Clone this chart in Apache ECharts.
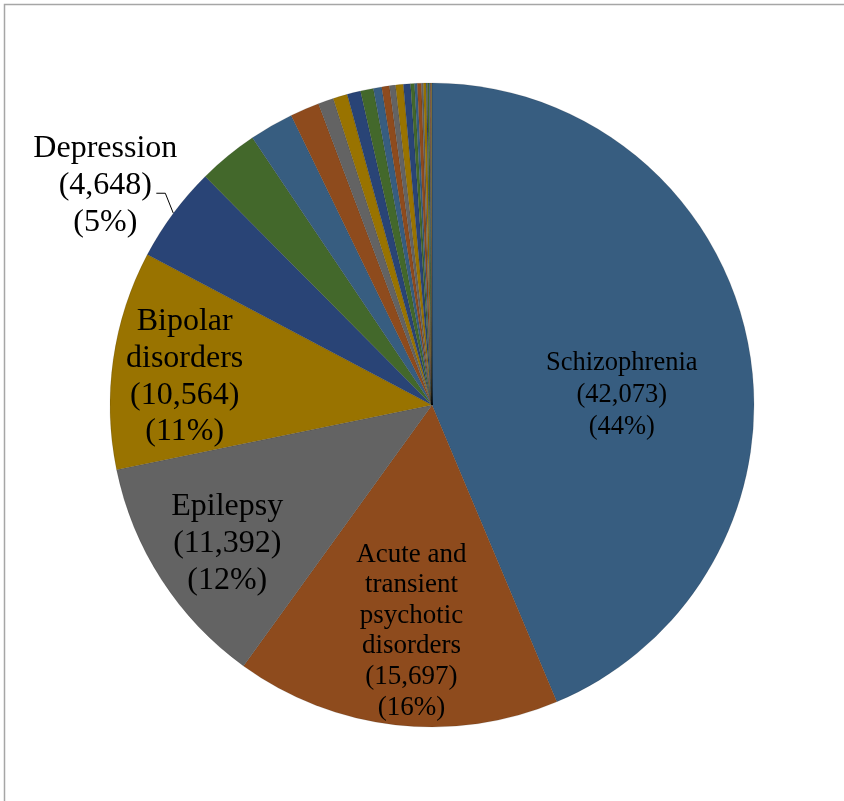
<!DOCTYPE html>
<html>
<head>
<meta charset="utf-8">
<script src="https://cdn.jsdelivr.net/npm/echarts@6/dist/echarts.min.js"></script>
<style>
  html, body { margin: 0; padding: 0; background: #ffffff; }
  #chart { width: 844px; height: 801px; }
</style>
</head>
<body>
<div id="chart"></div>
<script>
// Diagnoses, in clockwise order from 12 o'clock
const categories = [
  'Schizophrenia', 'Acute and transient psychotic disorders', 'Epilepsy',
  'Bipolar disorders', 'Depression',
  'Other 1', 'Other 2', 'Other 3', 'Other 4', 'Other 5', 'Other 6', 'Other 7',
  'Other 8', 'Other 9', 'Other 10', 'Other 11', 'Other 12', 'Other 13',
  'Other 14', 'Other 15', 'Other 16', 'Other 17', 'Other 18', 'Other 19',
  'Other 20', 'Other 21', 'Other 22', 'Other 23'
];
// Number of patients per diagnosis
const patients = [
  42073, 15697, 11392, 10564, 4648,
  2907, 2134, 1413, 747, 693, 653, 627,
  400, 373, 293, 373, 347, 187,
  133, 197, 96, 133, 53, 93,
  40, 35, 30, 25
];
// Label text for the labelled slices (line breaks as printed)
const labelNames = [
  'Schizophrenia',
  'Acute and\ntransient\npsychotic\ndisorders',
  'Epilepsy',
  'Bipolar\ndisorders',
  'Depression'
];

const palette = ['#375D80', '#8E4B1D', '#636363', '#997300', '#294476', '#43682B'];
// Label font size / line height and shift from the default inside position
const labelFont = [26.5, 27, 32, 32, 32];
const labelLH = [32, 30.6, 37, 36.7, 37];
const labelShift = [[29, 22], [-2, 63], [-67, 50], [-85, -5], null];

const total = patients.reduce((a, b) => a + b, 0);
const fmt = v => v.toLocaleString('en-US');

const data = categories.map((name, i) => {
  const item = { name: name, value: patients[i] };
  if (i < labelNames.length) {
    const pct = Math.round(patients[i] / total * 100);
    item.label = {
      show: true,
      position: i === 4 ? 'outside' : 'inside',
      formatter: labelNames[i] + '\n(' + fmt(patients[i]) + ')\n(' + pct + '%)',
      fontSize: labelFont[i],
      lineHeight: labelLH[i],
      fontFamily: '"Liberation Serif", "Times New Roman", serif',
      color: '#000000',
      align: 'center'
    };
    if (i === 4) {
      item.labelLine = { show: true, length: 20, length2: 9, lineStyle: { color: '#000000', width: 1 } };
    }
  }
  return item;
});

const chart = echarts.init(document.getElementById('chart'), null, { renderer: 'canvas' });
chart.setOption({
  animation: false,
  color: palette,
  graphic: [{
    type: 'rect',
    shape: { x: 4.5, y: 4.5, width: 1000, height: 1000 },
    style: { fill: 'none', stroke: '#A6A6A6', lineWidth: 1.5 },
    silent: true
  }],
  series: [{
    type: 'pie',
    center: [432, 405],
    radius: 322,
    startAngle: 90,
    clockwise: true,
    avoidLabelOverlap: false,
    minAngle: 0,
    emphasis: { disabled: true },
    itemStyle: { borderColor: 'rgba(0,0,0,0.22)', borderWidth: 0.5 },
    label: { show: false },
    labelLine: { show: false },
    labelLayout: function (params) {
      const i = params.dataIndex;
      const r = params.labelRect;
      if (i < 4) {
        return {
          x: r.x + r.width / 2 + labelShift[i][0],
          y: r.y + r.height / 2 + labelShift[i][1],
          align: 'center',
          verticalAlign: 'middle'
        };
      }
      if (i === 4 && params.labelLinePoints) {
        const p0 = params.labelLinePoints[0];
        const p1 = [p0[0] - 8, p0[1] - 20];
        const p2 = [p1[0] - 9, p1[1]];
        return {
          x: p2[0] - 51,
          y: p2[1] - 8,
          align: 'center',
          verticalAlign: 'middle',
          labelLinePoints: [p0, p1, p2]
        };
      }
      return {};
    },
    data: data
  }]
});
</script>
</body>
</html>
